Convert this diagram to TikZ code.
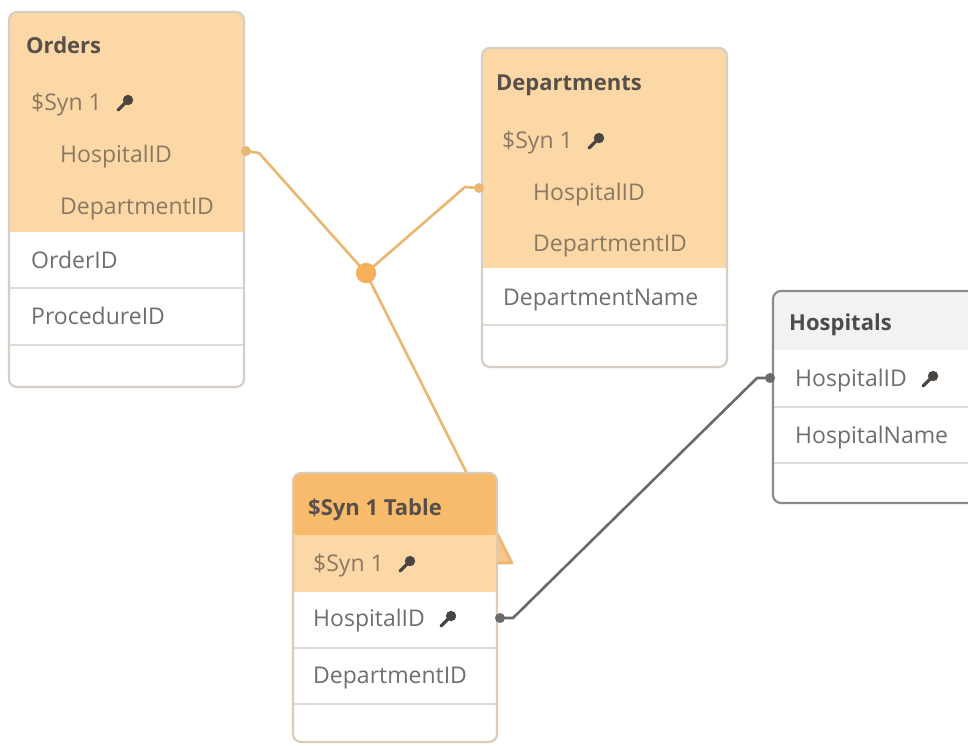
\documentclass[tikz,border=0pt]{standalone}
\usepackage{fontspec}
\setmainfont{Open Sans}
\definecolor{orL}{HTML}{FCD8A7}
\definecolor{orH}{HTML}{F8BA6B}
\definecolor{bord}{HTML}{D6CFC6}
\definecolor{bordH}{HTML}{8C8C8C}
\definecolor{rowl}{HTML}{DEDAD5}
\definecolor{conOc}{HTML}{E9B770}
\definecolor{conGc}{HTML}{6A6A6A}
\definecolor{juncc}{HTML}{F6B05C}
\definecolor{triF}{HTML}{F7C68A}
\definecolor{hosH}{HTML}{F2F2F2}
\definecolor{txtH}{HTML}{57504A}
\definecolor{txtO}{HTML}{8A7862}
\definecolor{txtW}{HTML}{6E6E6E}
\definecolor{keyc}{HTML}{4A4540}
\tikzset{
  fld/.style={anchor=base west, inner sep=0pt, font=\fontsize{23}{27}\selectfont},
  fldO/.style={fld, text=txtO},
  fldW/.style={fld, text=txtW},
  hdr/.style={anchor=base west, inner sep=0pt, font=\bfseries\fontsize{22}{26}\selectfont, text=txtH},
  tbox/.style={draw=bord, line width=2.2pt, rounded corners=8pt},
  rowline/.style={draw=rowl, line width=1.4pt},
  conO/.style={draw=conOc, line width=2.6pt},
  conG/.style={draw=conGc, line width=2.6pt},
  markO/.style={circle, fill=conOc, inner sep=0pt, minimum size=10pt},
  markG/.style={circle, fill=conGc, inner sep=0pt, minimum size=10pt},
  keyicon/.pic={
    \fill (4,-4) circle (5.2);
    \draw[line width=3.2pt, line cap=round] (3,-3) -- (-6,6);
  }
}
\begin{document}
\begin{tikzpicture}[x=1pt,y=-1pt]
\useasboundingbox (0,0) rectangle (968,745);
\clip (0,0) rectangle (968,745);
\fill[white] (0,0) rectangle (968,745);

% ---------- connector anchor points ----------
\coordinate (ordHosp) at (246,151);
\coordinate (ordB) at (259,153);
\coordinate (depHosp) at (479,188);
\coordinate (depB) at (465,187);
\coordinate (synEnd) at (512,563);
\coordinate (synEdge) at (497,563);
\coordinate (synTop) at (497,533);
\coordinate (synHosp) at (500,618);
\coordinate (synB) at (513,618);
\coordinate (hosB) at (757,378);
\coordinate (hosHosp) at (770,378);
\node[circle, fill=juncc, inner sep=0pt, minimum size=20pt] (jn) at (366,273) {};

% ---------- connectors (behind tables) ----------
\draw[conO] (ordHosp) -- (ordB) -- (jn.center);
\draw[conO] (depHosp) -- (depB) -- (jn.center);
\fill[triF] (synTop) -- (synEnd) -- (synEdge) -- cycle;
\draw[conO, line join=round] (jn.center) -- (synEnd) -- (synEdge);
\draw[conG, line join=round] (synHosp) -- (synB) -- (hosB) -- (hosHosp);
\node[circle, fill=juncc, inner sep=0pt, minimum size=20pt] at (jn.center) {};

% ---------- Orders ----------
\begin{scope}
  \clip[rounded corners=8pt] (9,12) rectangle (244,387);
  \fill[white] (9,12) rectangle (244,387);
  \fill[orL] (9,12) rectangle (244,232);
  \draw[rowline] (9,288) -- (244,288);
  \draw[rowline] (9,345) -- (244,345);
\end{scope}
\draw[tbox] (9,12) rectangle (244,387);
\node[hdr] (ordT) at (26,53) {Orders};
\node[fldO] (ord1) at (31,110) {\$Syn 1};
\pic[color=keyc] at ([xshift=22pt]ord1.east) {keyicon};
\node[fldO] (ord2) at (60,162) {HospitalID};
\node[fldO] (ord3) at (60,214) {DepartmentID};
\node[fldW] (ord4) at (31,268) {OrderID};
\node[fldW] (ord5) at (31,324) {ProcedureID};

% ---------- Departments ----------
\begin{scope}
  \clip[rounded corners=8pt] (482,48) rectangle (727,367);
  \fill[white] (482,48) rectangle (727,367);
  \fill[orL] (482,48) rectangle (727,268);
  \draw[rowline] (482,325) -- (727,325);
\end{scope}
\draw[tbox] (482,48) rectangle (727,367);
\node[hdr] (depT) at (496,90) {Departments};
\node[fldO] (dep1) at (502,148) {\$Syn 1};
\pic[color=keyc] at ([xshift=22pt]dep1.east) {keyicon};
\node[fldO] (dep2) at (533,200) {HospitalID};
\node[fldO] (dep3) at (533,251) {DepartmentID};
\node[fldW] (dep4) at (503,305) {DepartmentName};

% ---------- Hospitals ----------
\begin{scope}
  \clip[rounded corners=8pt] (773,291) rectangle (1000,503);
  \fill[white] (773,291) rectangle (1000,503);
  \fill[hosH] (773,291) rectangle (1000,350);
  \draw[rowline] (773,407) -- (1000,407);
  \draw[rowline] (773,463) -- (1000,463);
\end{scope}
\draw[tbox, draw=bordH] (773,291) rectangle (1000,503);
\node[hdr, text=black!70] (hosT) at (789,330) {Hospitals};
\node[fldW] (hos1) at (795,386) {HospitalID};
\pic[color=keyc] at ([xshift=22pt]hos1.east) {keyicon};
\node[fldW] (hos2) at (795,443) {HospitalName};

% ---------- $Syn 1 Table ----------
\begin{scope}
  \clip[rounded corners=8pt] (293,473) rectangle (497,742);
  \fill[white] (293,473) rectangle (497,742);
  \fill[orL] (293,473) rectangle (497,592);
  \fill[orH] (293,473) rectangle (497,535);
  \draw[rowline] (293,648) -- (497,648);
  \draw[rowline] (293,704) -- (497,704);
\end{scope}
\draw[tbox, draw=bord!80!orH] (293,473) rectangle (497,742);
\node[hdr] (synT) at (308,515) {\$Syn 1 Table};
\node[fldO] (syn1) at (313,571) {\$Syn 1};
\pic[color=keyc] at ([xshift=22pt]syn1.east) {keyicon};
\node[fldW] (syn2) at (313,626) {HospitalID};
\pic[color=keyc] at ([xshift=22pt]syn2.east) {keyicon};
\node[fldW] (syn3) at (313,683) {DepartmentID};

% ---------- end markers ----------
\node[markO] at (ordHosp) {};
\node[markO] at (depHosp) {};
\node[markG] at (synHosp) {};
\node[markG] at (hosHosp) {};
\end{tikzpicture}
\end{document}
